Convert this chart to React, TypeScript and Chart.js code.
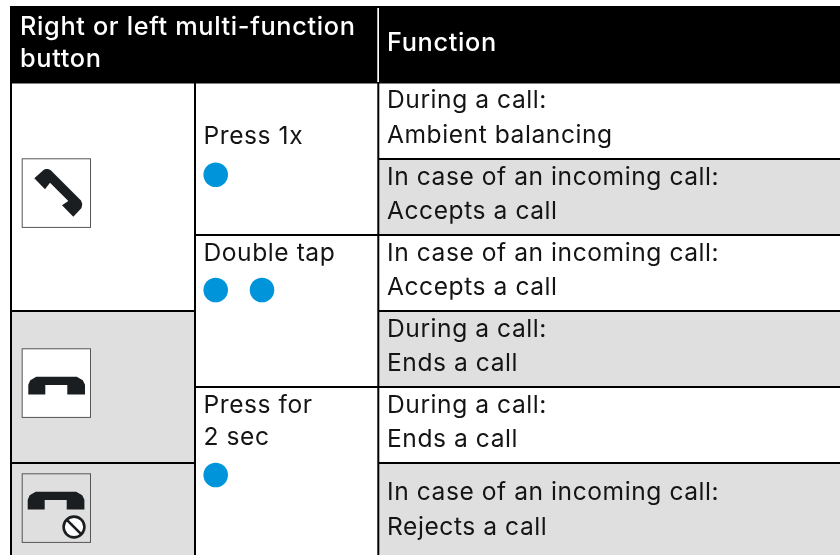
import React, { useEffect, useRef } from "react";
import { Chart, registerables } from "chart.js";

Chart.register(...registerables);

// ---- table content ----
const headerButton = ["Right or left multi-function", "button"];
const headerFunction = ["Function"];
const pressLabels = [["Press 1x"], ["Double tap"], ["Press for", "2 sec"]];
const functionRows = [
  ["During a call:", "Ambient balancing"],
  ["In case of an incoming call:", "Accepts a call"],
  ["In case of an incoming call:", "Accepts a call"],
  ["During a call:", "Ends a call"],
  ["During a call:", "Ends a call"],
  ["In case of an incoming call:", "Rejects a call"],
];
const functionShaded = [false, true, false, true, false, true];
const buttonDots = [
  { x: 215.7, y: 174.7 },
  { x: 215.7, y: 290 },
  { x: 262, y: 290 },
  { x: 215.7, y: 475 },
];

// ---- layout (in scale units, which equal page pixels) ----
const LEFT = 10, COL1 = 195, COL2 = 378.3, RIGHT = 840, TOP = 6, HEAD = 83, BOTTOM = 555;
const rowEdges = [83, 159, 235, 311, 387, 463, 555];
const rowBaselines = [[108, 142.5], [185, 218.5], [261, 294.5], [337, 370.5], [413, 446.5], [499.5, 535]];
const pressBaselines = [[143.5], [261], [412.5, 444.5]];
const FONT = "Inter, Roboto, sans-serif";
const TEXT = "#141414";
const GREY = "#dfdfdf";
const BLUE = "#0095da";
const SIZE = 24.6;
const HEAD_SIZE = 25.3;
const SPACING = "0.55px";
const HEAD_SPACING = "0.65px";

const tablePlugin = {
  id: "table",
  beforeDatasetsDraw(chart: any) {
    const { ctx, scales } = chart;
    const X = (v: number) => scales.x.getPixelForValue(v);
    const Y = (v: number) => scales.y.getPixelForValue(v);
    const rect = (x0: number, y0: number, x1: number, y1: number, c: string) => {
      ctx.fillStyle = c;
      ctx.fillRect(X(x0), Y(y0), X(x1) - X(x0), Y(y1) - Y(y0));
    };
    const text = (s: string, x: number, y: number, head = false) => {
      ctx.font = `${head ? 500 : 400} ${head ? HEAD_SIZE : SIZE}px ${FONT}`;
      ctx.letterSpacing = head ? HEAD_SPACING : SPACING;
      ctx.fillStyle = head ? "#fff" : TEXT;
      ctx.textBaseline = "alphabetic";
      ctx.textAlign = "left";
      ctx.fillText(s, X(x), Y(y));
    };
    const poly = (pts: number[][], c: string) => {
      ctx.fillStyle = c;
      ctx.beginPath();
      pts.forEach((p, i) => (i ? ctx.lineTo(X(p[0]), Y(p[1])) : ctx.moveTo(X(p[0]), Y(p[1]))));
      ctx.closePath();
      ctx.fill();
    };

    ctx.save();
    // shaded cells
    functionShaded.forEach((on, i) => {
      if (on) rect(COL2, rowEdges[i], RIGHT, rowEdges[i + 1], GREY);
    });
    rect(LEFT, rowEdges[3], COL1, BOTTOM, GREY);

    // header
    rect(LEFT, TOP, RIGHT, HEAD + 0.5, "#000");
    rect(COL2 - 1, TOP + 2, COL2 + 0.7, HEAD - 1, "#fff");

    // rules
    rect(LEFT, HEAD, LEFT + 2, BOTTOM, "#000");
    rect(COL1 - 1, HEAD, COL1 + 1, BOTTOM, "#000");
    rect(COL2 - 1, HEAD, COL2 + 1, BOTTOM, "#000");
    [159, 235, 311, 387, 463].forEach((e) => rect(COL2, e - 1, RIGHT, e + 1, "#000"));
    [235, 387].forEach((e) => rect(COL1, e - 1, COL2, e + 1, "#000"));
    [311, 463].forEach((e) => rect(LEFT, e - 1, COL1, e + 1, "#000"));

    // icon boxes
    [[158.3], [348.3], [473.3]].forEach(([y]) => {
      rect(21.7, y, 91, y + 69.6, "#555");
      rect(22.7, y + 1, 90, y + 68.6, y > 400 ? GREY : "#fff");
    });

    // handset diagonal
    poly(
      [[34.3, 178.3], [43.5, 170], [45.5, 169], [48, 169], [50.5, 170], [81, 200.5], [82.3, 204], [81.5, 208], [73.3, 216.7], [62, 205.3], [68.3, 201], [50, 182.7], [45, 189.3]],
      "#1b1e20"
    );
    // handset horizontal
    const flat = (x: number, y: number) =>
      poly(
        [[x, y + 17.7], [x, y + 8], [x + 2, y + 3.5], [x + 8, y], [x + 48.5, y], [x + 54.5, y + 3.5], [x + 56.7, y + 8], [x + 56.7, y + 17.7], [x + 39, y + 17.7], [x + 39, y + 8.4], [x + 17, y + 8.4], [x + 17, y + 17.7]],
        "#1b1e20"
      );
    flat(28.3, 376.7);
    flat(27.7, 491.7);
    // prohibition sign
    ctx.strokeStyle = "#1b1e20";
    ctx.lineWidth = 2.6;
    ctx.beginPath();
    ctx.arc(X(74), Y(527), 10.4, 0, Math.PI * 2);
    ctx.fillStyle = "#fff";
    ctx.fill();
    ctx.stroke();
    ctx.beginPath();
    ctx.moveTo(X(66.6), Y(519.6));
    ctx.lineTo(X(81.4), Y(534.4));
    ctx.stroke();

    // text
    headerButton.forEach((s, i) => text(s, 20, [35, 67][i], true));
    headerFunction.forEach((s) => text(s, 387, 51, true));
    pressLabels.forEach((lines, i) => lines.forEach((s, j) => text(s, 203.5, pressBaselines[i][j])));
    functionRows.forEach((lines, i) => lines.forEach((s, j) => text(s, 387, rowBaselines[i][j])));
    ctx.restore();
  },
};

export default function App() {
  const ref = useRef<HTMLCanvasElement>(null);
  useEffect(() => {
    document.body.style.margin = "0";
    const chart = new Chart(ref.current!, {
      type: "scatter",
      data: {
        datasets: [
          {
            data: buttonDots,
            pointRadius: 12.3,
            pointBackgroundColor: BLUE,
            pointBorderWidth: 0,
          },
        ],
      },
      options: {
        animation: false,
        responsive: false,
        layout: { padding: 0, autoPadding: false },
        plugins: { legend: { display: false }, tooltip: { enabled: false }, title: { display: false } },
        scales: {
          x: { type: "linear", min: 0, max: 840, display: false },
          y: { type: "linear", min: 0, max: 555, reverse: true, display: false },
        },
      },
      plugins: [tablePlugin],
    });
    return () => chart.destroy();
  }, []);
  return <canvas ref={ref} width={840} height={555} style={{ display: "block" }} />;
}
